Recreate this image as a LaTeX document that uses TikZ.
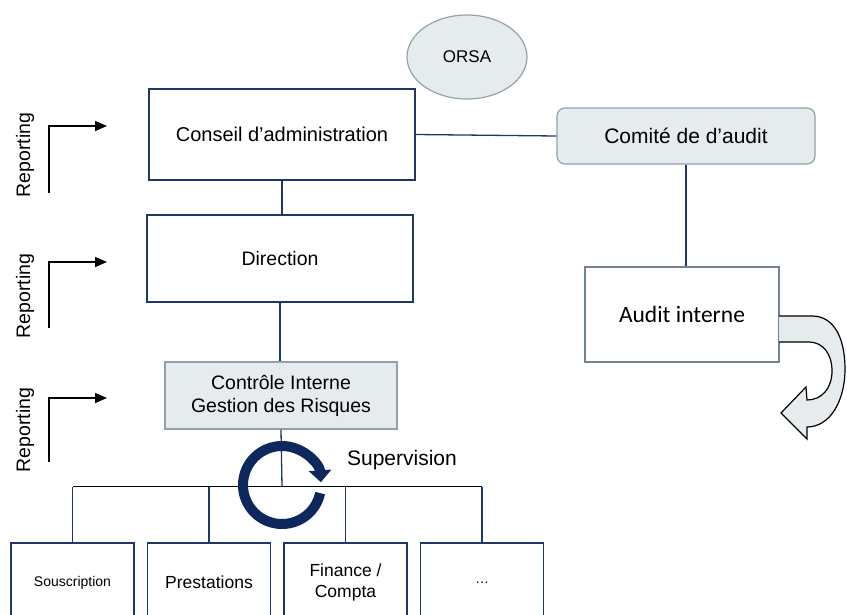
\documentclass[tikz,border=0pt]{standalone}
\usepackage{fontspec}
\setmainfont{Liberation Sans}
\newfontfamily\calibri{Carlito}
\usetikzlibrary{arrows.meta, shapes.geometric}
\newcommand{\taille}[2]{\fontsize{#1}{#2}\selectfont}

\begin{document}
\begin{tikzpicture}[x=1pt, y=-1pt]
    \tikzstyle{boite}  = [draw=bleu, line width=1.6pt, inner sep=0pt, align=center]
    \tikzstyle{grise}  = [draw=grisbord, fill=grisclair, line width=1.2pt, inner sep=0pt, align=center]
    \tikzstyle{lien}   = [draw=bleu, line width=1.3pt]
    \tikzstyle{fleche} = [line width=1.6pt, -{Triangle[length=12pt, width=10pt]}]

    \definecolor{bleu}{RGB}{30,54,104}
    \definecolor{marine}{RGB}{14,40,94}
    \definecolor{grisclair}{RGB}{230,235,238}
    \definecolor{grisbord}{RGB}{145,162,170}
    \definecolor{grisaudit}{RGB}{115,130,148}

    \useasboundingbox (0,0) rectangle (847,614);
    \clip (0,0) rectangle (847,614);

    % Organes de gouvernance
    \node[grise, ellipse, minimum width=120pt, minimum height=84pt, font=\taille{17}{20}] (orsa) at (467,57) {ORSA};
    \node[boite, minimum width=266pt, minimum height=91pt, font=\taille{20}{24}] (conseil) at (282,134.5) {Conseil d’administration};
    \node[boite, minimum width=266pt, minimum height=87pt, font=\taille{19.5}{23}] (direction) at (280,258.5) {Direction};
    \node[grise, minimum width=232pt, minimum height=67pt, font=\taille{19.5}{23}] (controle) at (281,395.5) {Contrôle Interne\\Gestion des Risques};
    \node[grise, rounded corners=8pt, minimum width=258pt, minimum height=56pt, font=\taille{21}{25}] (comite) at (686,136) {Comité de d’audit};
    \node[draw=grisaudit, line width=1.2pt, inner sep=0pt, minimum width=194pt, minimum height=95pt, font=\calibri\taille{23.5}{28}] (audit) at (682,314.5) {Audit interne};

    % Liaisons
    \draw[lien] (conseil.south) -- (conseil.south |- direction.north);
    \draw[lien] (direction.south) -- (direction.south |- controle.north);
    \draw[lien] (conseil.east) -- (comite.west);
    \draw[lien] (comite.south) -- (comite.south |- audit.north);

    % Services operationnels
    \coordinate (barre) at (282,486.5);
    \foreach \nom/\x/\texte/\fs in {sousc/72.5/Souscription/14, prest/209/Prestations/17.5,
                                    fin/345.5/{Finance /\\Compta}/17.5, autres/482/{\dots}/14}
    {
        \node[boite, minimum width=123pt, minimum height=79pt, font=\taille{\fs}{21}] (\nom) at (\x,582.5) {\texte};
        \draw[lien] (\nom.north) -- (\nom.north |- barre);
    }
    \draw[line width=1.6pt] (sousc.north |- barre) -- (autres.north |- barre);
    \draw[lien] (controle.south) -- (barre);

    % Supervision
    \coordinate (centre) at (282,485);
    \draw[marine, line width=10pt, -{Triangle[width=22pt, length=12pt]}]
        (centre) ++(12:39) arc[start angle=12, end angle=356, radius=39];
    \node[font=\taille{21}{25}] (supervision) at (402,460) {Supervision};

    % Reporting
    \foreach \i/\yh/\yb/\yt in {1/126/193/155, 2/262/328/296, 3/398/462/430}
    {
        \coordinate (dep\i) at (49,\yb);
        \coordinate (arr\i) at (107,\yh);
        \draw[fleche] (dep\i) |- (arr\i);
        \node[rotate=90, font=\taille{19.5}{23}] (rep\i) at (25,\yt) {Reporting};
    }

    % Boucle de l'audit interne
    \draw[line width=1.2pt, fill=grisclair]
        (779,316) -- (812,316) .. controls (834,316) and (845,338) .. (845,369)
        .. controls (845,401) and (830,427) .. (807,427) -- (807,439) -- (781,413)
        -- (806,387) -- (807,400) .. controls (822,400) and (832,388) .. (832,371)
        .. controls (832,354) and (823,342) .. (809,342) -- (779,342);
\end{tikzpicture}
\end{document}
